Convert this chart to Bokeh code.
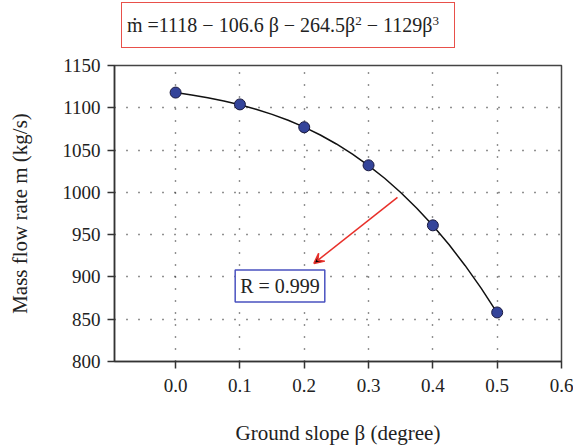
from bokeh.plotting import figure
from bokeh.models import Label, Arrow, VeeHead, FixedTicker, Range1d, NumeralTickFormatter, Div
from bokeh.layouts import column
from bokeh.embed import file_html
from bokeh.resources import INLINE

# measured points
slope = [0.0, 0.1, 0.2, 0.3, 0.4, 0.5]
mass_flow = [1118, 1104, 1077, 1032, 961, 858]

# fitted curve
curve_x = [0.0, 0.025, 0.05, 0.075, 0.1, 0.125, 0.15, 0.175, 0.2, 0.225, 0.25,
           0.275, 0.3, 0.325, 0.35, 0.375, 0.4, 0.425, 0.45, 0.475, 0.5]
curve_y = [1118.0, 1115.2, 1111.9, 1108.0, 1103.6, 1098.3, 1092.2, 1085.2, 1077.1,
           1067.8, 1057.2, 1045.2, 1031.7, 1016.7, 999.9, 981.3, 960.8, 938.3,
           913.6, 886.7, 857.4]

x_ticks = [0.0, 0.1, 0.2, 0.3, 0.4, 0.5, 0.6]
y_ticks = [800, 850, 900, 950, 1000, 1050, 1100, 1150]

FONT = "Liberation Serif"

sup = '<span style="font-size:13px; position:relative; top:-7px;">{}</span>'
title_html = (
    '<div style="margin-left:116px; margin-top:-3px; width:334px; height:46px; '
    'box-sizing:border-box; border:1.5px solid #e8504a; display:flex; '
    'align-items:center; justify-content:flex-start; padding-left:5px; '
    'font-family:\'Liberation Serif\'; '
    'font-size:20px; color:#222222; white-space:nowrap;"><span>'
    'ṁ =1118 − 106.6 β − 264.5β' + sup.format('2') + ' − 1129β' + sup.format('3') +
    '</span></div>'
)
header = Div(text=title_html, width=573, height=43)

p = figure(width=573, height=394, output_backend="svg", toolbar_location=None,
           x_range=Range1d(-0.095, 0.6), y_range=Range1d(800, 1150),
           min_border_left=114, min_border_right=12, min_border_top=12,
           min_border_bottom=86)

p.outline_line_color = "#444444"
p.outline_line_width = 1.5
p.background_fill_color = "white"
p.border_fill_color = "white"

for ax in (p.xaxis[0], p.yaxis[0]):
    ax.axis_line_color = "#333333"
    ax.axis_line_width = 1.5
    ax.major_tick_line_color = "#333333"
    ax.major_tick_line_width = 1.5
    ax.major_tick_out = 7
    ax.major_tick_in = 0
    ax.minor_tick_line_color = None
    ax.major_label_text_font = FONT
    ax.major_label_text_font_size = "19px"
    ax.major_label_text_color = "#222222"
    ax.axis_label_text_font = FONT
    ax.axis_label_text_font_size = "21px"
    ax.axis_label_text_font_style = "normal"
    ax.axis_label_text_color = "#222222"

p.xaxis.ticker = FixedTicker(ticks=x_ticks)
p.yaxis.ticker = FixedTicker(ticks=y_ticks)
p.xaxis.formatter = NumeralTickFormatter(format="0.0")
p.xaxis.axis_label = "Ground slope β (degree)"
p.yaxis.axis_label = "Mass flow rate m (kg/s)"
p.xaxis.major_label_standoff = 10
p.xaxis.axis_label_standoff = 26
p.yaxis.major_label_standoff = 7
p.yaxis.axis_label_standoff = 28

p.xgrid.ticker = FixedTicker(ticks=x_ticks[:-1])
p.ygrid.ticker = FixedTicker(ticks=y_ticks[1:-1])
for g in (p.xgrid[0], p.ygrid[0]):
    g.grid_line_color = "#222222"
    g.grid_line_width = 1.4
    g.grid_line_dash = "1 11"

p.line(curve_x, curve_y, line_color="#111111", line_width=1.5)
p.scatter(slope, mass_flow, size=11, fill_color="#34449a",
          line_color="#1a1a40", line_width=1)

p.add_layout(Arrow(end=VeeHead(size=10, line_color="#e8302a", line_width=1.5),
                   x_start=0.345, y_start=994, x_end=0.215, y_end=916,
                   line_color="#e8302a", line_width=1.5))

p.add_layout(Label(x=0.1623, y=889.2, text="R = 0.999", text_font=FONT,
                   text_font_size="20px", text_color="#222222",
                   text_align="center", text_baseline="middle",
                   border_line_color="#4a52c0", border_line_width=1.5,
                   background_fill_color="white", padding=5))

layout = column(header, p, spacing=0)

open("out.html", "w").write(file_html(layout, INLINE))
